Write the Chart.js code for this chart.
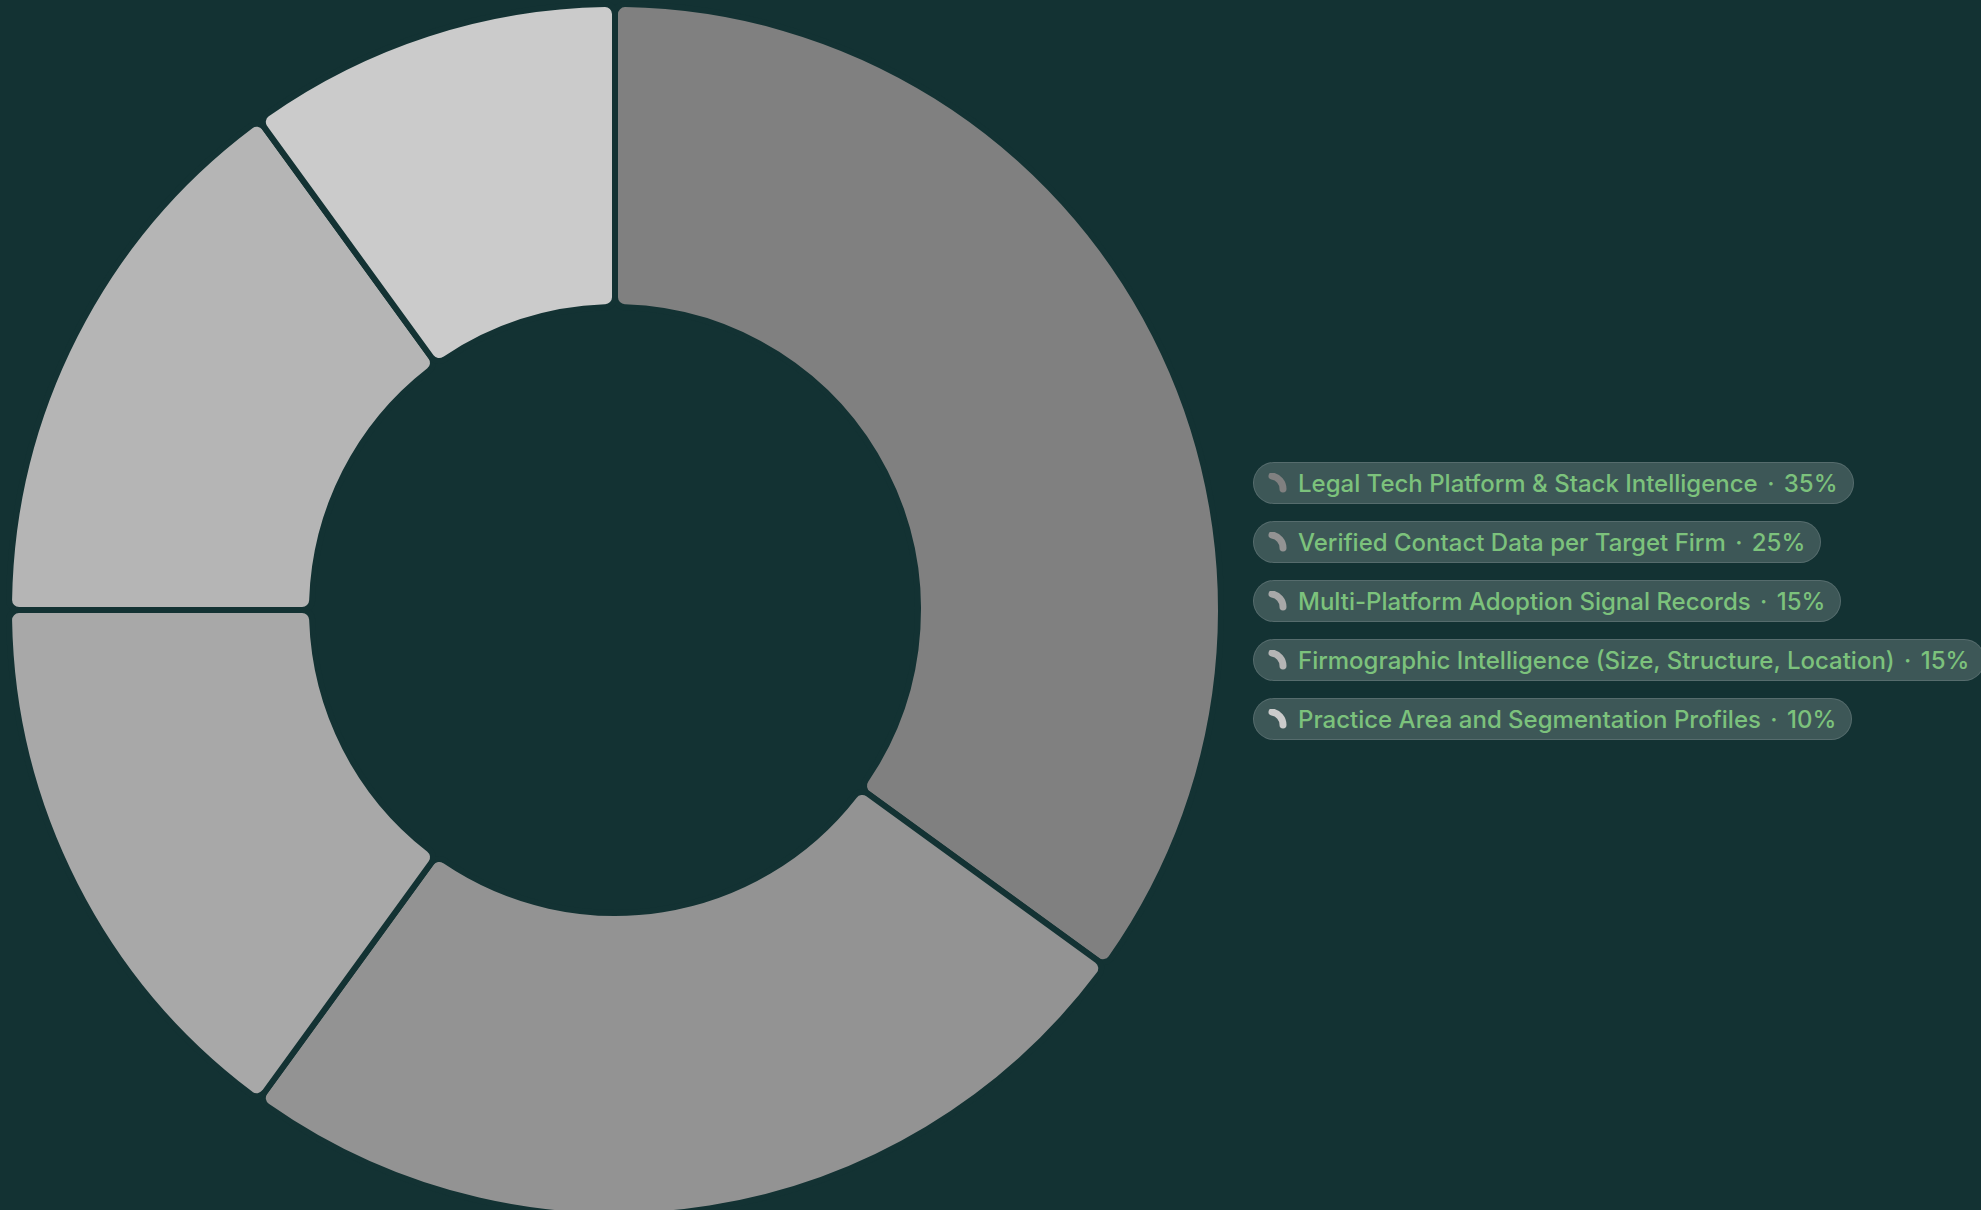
<!DOCTYPE html>
<html>
<head>
<meta charset="utf-8">
<script src="https://cdn.jsdelivr.net/npm/chart.js@4.4.0/dist/chart.umd.min.js"></script>
<style>
  html, body { margin: 0; padding: 0; width: 1981px; height: 1210px; overflow: hidden; background: #133233; }
  #wrap { position: absolute; left: 0; top: 1px; width: 1230px; height: 1218px; }
  #legend { position: absolute; left: 1253px; top: 462px; font-family: Inter, "Noto Sans", sans-serif; }
  .pill { display: flex; align-items: center; height: 40px; box-sizing: content-box; border: 1px solid rgba(255,255,255,0.13);
          background: rgba(255,255,255,0.18); border-radius: 21px; padding: 0 15px 0 14px; margin-bottom: 17px;
          width: max-content; color: #7cc27c; font-size: 24px; font-weight: 500; white-space: nowrap; }
  .pill svg { margin-right: 10px; flex: none; }
  .sep { margin: 0 3px; }
</style>
</head>
<body>
<div id="wrap"><canvas id="c"></canvas></div>
<div id="legend"></div>
<script>
const categories = [
  "Legal Tech Platform & Stack Intelligence",
  "Verified Contact Data per Target Firm",
  "Multi-Platform Adoption Signal Records",
  "Firmographic Intelligence (Size, Structure, Location)",
  "Practice Area and Segmentation Profiles"
];
const shares = [35, 25, 15, 15, 10];
const sliceColors = ["#808080", "#939393", "#a8a8a8", "#b5b5b5", "#cbcbcb"];
const bg = "#133233";

new Chart(document.getElementById('c'), {
  type: 'doughnut',
  data: {
    labels: categories,
    datasets: [{
      data: shares,
      backgroundColor: sliceColors,
      borderColor: bg,
      borderWidth: 6,
      borderRadius: 10,
      hoverOffset: 0
    }]
  },
  options: {
    responsive: true,
    maintainAspectRatio: false,
    animation: false,
    cutout: '50%',
    plugins: { legend: { display: false }, tooltip: { enabled: true } }
  }
});

const legend = document.getElementById('legend');
categories.forEach((name, i) => {
  const pill = document.createElement('div');
  pill.className = 'pill';
  pill.innerHTML =
    '<svg width="20" height="20" viewBox="0 0 20 20"><path d="M4 3 A13 13 0 0 1 15 16" fill="none" stroke="' +
    sliceColors[i] + '" stroke-width="7" stroke-linecap="round"/></svg>' +
    '<span>' + name.replace(/&/g, '&amp;') + ' <span class="sep">·</span> ' + shares[i] + '%</span>';
  legend.appendChild(pill);
});
</script>
</body>
</html>
